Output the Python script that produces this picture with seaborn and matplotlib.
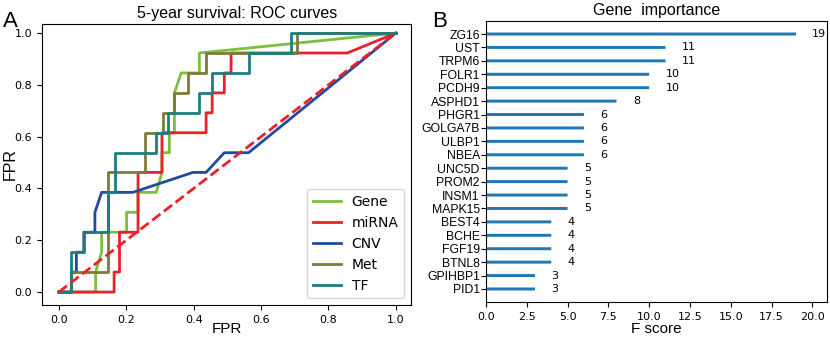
import matplotlib
matplotlib.use("Agg")
import matplotlib.pyplot as plt
import seaborn as sns
import pandas as pd

# ---- ROC data (panel A) ----
gene_fpr = [0, 0.109, 0.109, 0.127, 0.127, 0.201, 0.201, 0.235, 0.235, 0.289, 0.306, 0.306, 0.328, 0.328, 0.343, 0.343, 0.363, 0.417, 0.417, 1.0]
gene_tpr = [0, 0, 0.077, 0.154, 0.231, 0.231, 0.308, 0.308, 0.385, 0.385, 0.462, 0.538, 0.538, 0.615, 0.615, 0.769, 0.846, 0.846, 0.923, 1.0]

mirna_fpr = [0, 0.164, 0.164, 0.18, 0.18, 0.235, 0.235, 0.306, 0.306, 0.437, 0.437, 0.455, 0.455, 0.491, 0.491, 0.511, 0.511, 0.856, 1.0]
mirna_tpr = [0, 0, 0.077, 0.077, 0.231, 0.231, 0.462, 0.462, 0.615, 0.615, 0.692, 0.692, 0.769, 0.769, 0.846, 0.846, 0.923, 0.923, 1.0]

cnv_fpr = [0, 0.037, 0.037, 0.052, 0.052, 0.074, 0.074, 0.107, 0.107, 0.127, 0.22, 0.398, 0.437, 0.491, 0.563, 1.0]
cnv_tpr = [0, 0, 0.077, 0.077, 0.154, 0.154, 0.231, 0.231, 0.308, 0.385, 0.385, 0.462, 0.462, 0.538, 0.538, 1.0]

met_fpr = [0, 0.037, 0.037, 0.146, 0.146, 0.257, 0.257, 0.309, 0.309, 0.343, 0.343, 0.383, 0.383, 0.437, 0.437, 0.708, 0.708, 1.0]
met_tpr = [0, 0, 0.077, 0.077, 0.462, 0.462, 0.615, 0.615, 0.692, 0.692, 0.769, 0.769, 0.846, 0.846, 0.923, 0.923, 1.0, 1.0]

tf_fpr = [0, 0.037, 0.037, 0.074, 0.074, 0.146, 0.146, 0.166, 0.166, 0.289, 0.289, 0.325, 0.325, 0.417, 0.417, 0.455, 0.455, 0.563, 0.563, 0.688, 0.688, 1.0]
tf_tpr = [0, 0, 0.154, 0.154, 0.231, 0.231, 0.385, 0.385, 0.538, 0.538, 0.615, 0.615, 0.692, 0.692, 0.769, 0.769, 0.846, 0.846, 0.923, 0.923, 1.0, 1.0]

chance_x = [0, 1]
chance_y = [0, 1]

series_names = ["Gene", "miRNA", "CNV", "Met", "TF"]
series_colors = ["#7bbf3f", "#e8212a", "#234a9c", "#7d7b38", "#1e7d80"]

# ---- Gene importance data (panel B) ----
genes = ["ZG16", "UST", "TRPM6", "FOLR1", "PCDH9", "ASPHD1", "PHGR1", "GOLGA7B", "ULBP1", "NBEA",
         "UNC5D", "PROM2", "INSM1", "MAPK15", "BEST4", "BCHE", "FGF19", "BTNL8", "GPIHBP1", "PID1"]
fscores = [19, 11, 11, 10, 10, 8, 6, 6, 6, 6, 5, 5, 5, 5, 4, 4, 4, 4, 3, 3]

SANS = ["Liberation Sans", "DejaVu Sans"]

fig = plt.figure(figsize=(8.3, 3.37), dpi=100)
axA = fig.add_axes([42 / 830, (337 - 305) / 337, 369 / 830, 281 / 337])
axB = fig.add_axes([486 / 830, (337 - 302.4) / 337, 341 / 830, 281.8 / 337])

# Panel A
curves = [(gene_fpr, gene_tpr), (mirna_fpr, mirna_tpr), (cnv_fpr, cnv_tpr), (met_fpr, met_tpr), (tf_fpr, tf_tpr)]
for (fx, ty), name, col in zip(curves, series_names, series_colors):
    sns.lineplot(x=fx, y=ty, sort=False, estimator=None, color=col, lw=2, label=name, ax=axA)
sns.lineplot(x=chance_x, y=chance_y, sort=False, estimator=None, color="#e8212a", lw=2,
             linestyle="--", ax=axA)
axA.set_xlim(-0.05, 1.045)
axA.set_ylim(-0.05, 1.035)
axA.set_xticks([0, 0.2, 0.4, 0.6, 0.8, 1.0])
axA.set_yticks([0, 0.2, 0.4, 0.6, 0.8, 1.0])
axA.tick_params(labelsize=8)
axA.set_xlabel("FPR", fontsize=11, family=SANS, va="top")
axA.set_ylabel("FPR", fontsize=11.5, family=SANS)
axA.xaxis.set_label_coords(0.5, (305 - 322) / 281)
axA.yaxis.set_label_coords((18 - 42) / 369, 0.5)
axA.set_title("5-year survival: ROC curves", fontsize=11.5, family=SANS, x=0.53, pad=4)
axA.legend(loc="lower right", fontsize=10)

# Panel B
df = pd.DataFrame({"gene": genes, "score": fscores})
sns.barplot(data=df, x="score", y="gene", orient="h", width=0.22, color="#1f77b4",
            saturation=1, ax=axB)
for p in axB.patches:
    p.set_snap(False)
    p.set_linewidth(0)
for i, v in enumerate(fscores):
    axB.text(v + 1, i, str(v), va="center", fontsize=8)
axB.set_xlim(0, 20.9)
axB.set_ylim(len(genes), -1)
axB.set_xticks([0, 2.5, 5, 7.5, 10, 12.5, 15, 17.5, 20])
axB.tick_params(axis="x", labelsize=8)
axB.tick_params(axis="y", labelsize=8.8, pad=1)
for lab in axB.get_yticklabels():
    lab.set_family(SANS)
axB.set_ylabel("")
axB.set_xlabel("F score", fontsize=11, family=SANS, va="top")
axB.xaxis.set_label_coords(0.5, (302.4 - 322) / 281.8)
axB.set_title("Gene  importance", fontsize=11.5, family=SANS, pad=4)
for s in axB.spines.values():
    s.set_visible(True)

fig.text(3 / 830, 1 - 27 / 337, "A", fontsize=16, family=SANS)
fig.text(432 / 830, 1 - 27 / 337, "B", fontsize=16, family=SANS)

fig.savefig("out.png", dpi=100)
